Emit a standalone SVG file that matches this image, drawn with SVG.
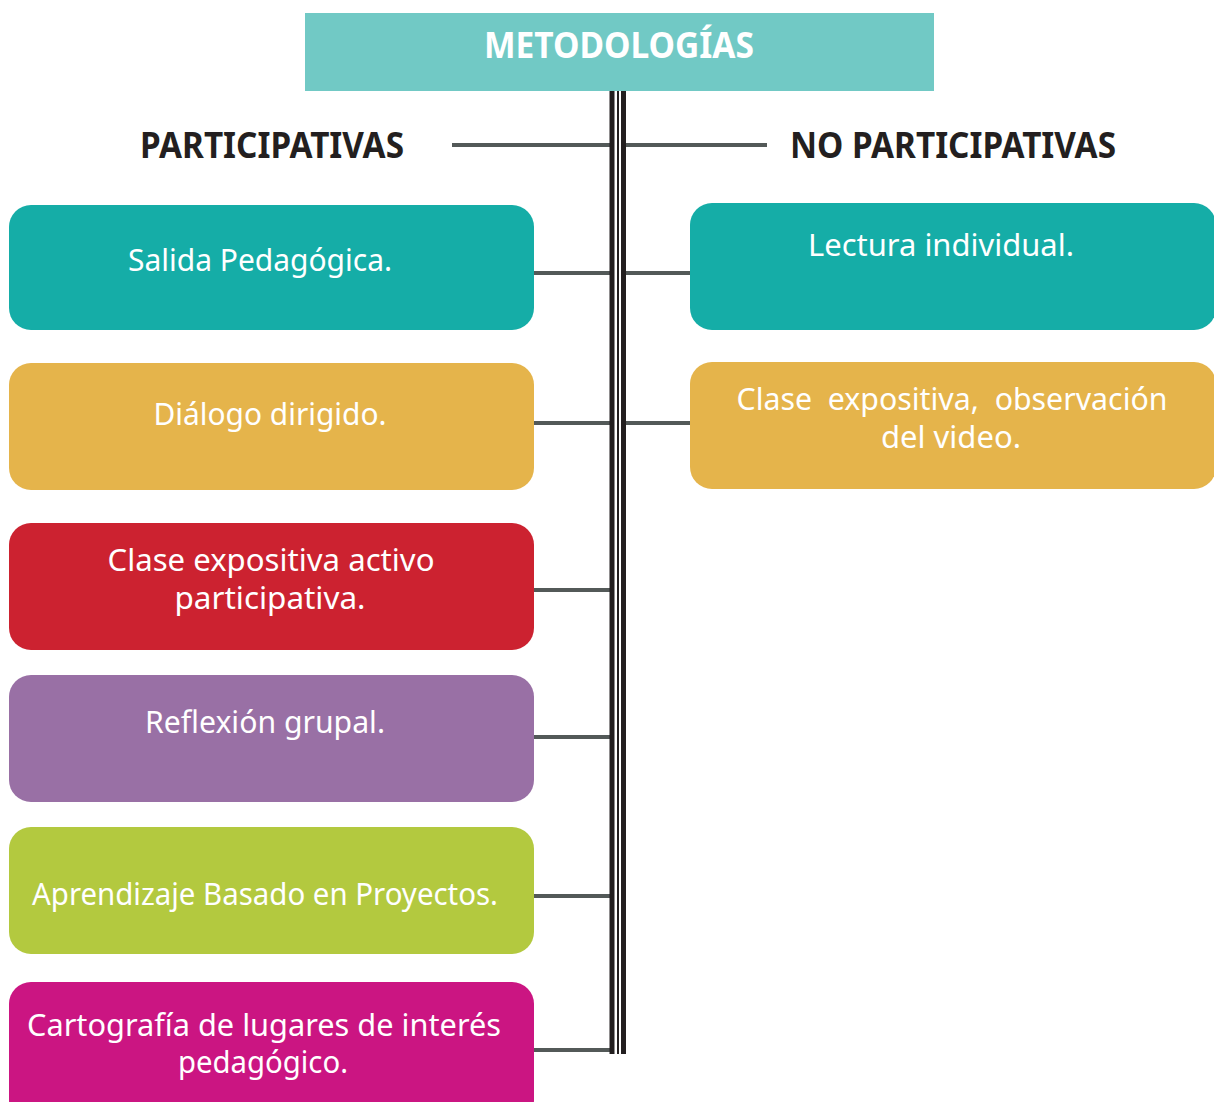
<svg xmlns="http://www.w3.org/2000/svg" width="1214" height="1102" viewBox="0 0 1214 1102">
<style>
.box text{fill:#ffffff;font-family:"Noto Sans","Liberation Sans",sans-serif;font-size:30px;text-anchor:middle}
.hdr{font-family:"Noto Sans","Liberation Sans",sans-serif;font-weight:bold;font-size:35px;text-anchor:middle}
.conn line{stroke:#535958;stroke-width:4}
.trunk line{stroke:#231f20}
</style>
<rect width="1214" height="1102" fill="#ffffff"/>
<g id="metodologias">
<rect x="305" y="13" width="629" height="78" fill="#71c9c5"/>
<text class="hdr" x="619" y="58" fill="#ffffff" textLength="270" lengthAdjust="spacingAndGlyphs">METODOLOGÍAS</text>
</g>
<g id="participativas">
<text class="hdr" x="272" y="158" fill="#231f20" font-size="36" textLength="264" lengthAdjust="spacingAndGlyphs">PARTICIPATIVAS</text>
</g>
<g id="no-participativas">
<text class="hdr" x="953" y="158" fill="#231f20" font-size="36" textLength="326" lengthAdjust="spacingAndGlyphs">NO PARTICIPATIVAS</text>
</g>
<g id="connectors">
<g class="conn">
<line x1="452" y1="145" x2="610" y2="145"/>
<line x1="626" y1="145" x2="767" y2="145"/>
<line x1="533" y1="273" x2="610" y2="273"/>
<line x1="626" y1="273" x2="691" y2="273"/>
<line x1="533" y1="423" x2="610" y2="423"/>
<line x1="626" y1="423" x2="691" y2="423"/>
<line x1="533" y1="590" x2="610" y2="590"/>
<line x1="533" y1="737" x2="610" y2="737"/>
<line x1="533" y1="896" x2="610" y2="896"/>
<line x1="533" y1="1050" x2="610" y2="1050"/>
</g>
<g class="trunk">
<line x1="612" y1="91" x2="612" y2="1054" stroke-width="5"/>
<line x1="618" y1="91" x2="618" y2="1054" stroke-width="2"/>
<line x1="623.5" y1="91" x2="623.5" y2="1054" stroke-width="5"/>
</g>
</g>
<g id="salida" class="box">
<rect x="9" y="205" width="525" height="125" rx="22" fill="#15ada7"/>
<text x="260" y="271" textLength="264" lengthAdjust="spacingAndGlyphs">Salida Pedagógica.</text>
</g>
<g id="dialogo" class="box">
<rect x="9" y="363" width="525" height="127" rx="22" fill="#e5b44b"/>
<text x="270" y="425" textLength="233" lengthAdjust="spacingAndGlyphs">Diálogo dirigido.</text>
</g>
<g id="clase-activo" class="box">
<rect x="9" y="523" width="525" height="127" rx="22" fill="#cc2230"/>
<text x="271" y="571" textLength="327" lengthAdjust="spacingAndGlyphs">Clase expositiva activo</text>
<text x="270" y="609" textLength="191" lengthAdjust="spacingAndGlyphs">participativa.</text>
</g>
<g id="reflexion" class="box">
<rect x="9" y="675" width="525" height="127" rx="22" fill="#9970a5"/>
<text x="265" y="733" textLength="240" lengthAdjust="spacingAndGlyphs">Reflexión grupal.</text>
</g>
<g id="abp" class="box">
<rect x="9" y="827" width="525" height="127" rx="22" fill="#b3c93f"/>
<text x="265" y="905" textLength="466" lengthAdjust="spacingAndGlyphs">Aprendizaje Basado en Proyectos.</text>
</g>
<g id="cartografia" class="box">
<rect x="9" y="982" width="525" height="140" rx="22" fill="#cb1582"/>
<text x="264" y="1036" textLength="474" lengthAdjust="spacingAndGlyphs">Cartografía de lugares de interés</text>
<text x="263" y="1073" textLength="170" lengthAdjust="spacingAndGlyphs">pedagógico.</text>
</g>
<g id="lectura" class="box">
<rect x="690" y="203" width="526" height="127" rx="22" fill="#15ada7"/>
<text x="941" y="256" textLength="266" lengthAdjust="spacingAndGlyphs">Lectura individual.</text>
</g>
<g id="clase-video" class="box">
<rect x="690" y="362" width="526" height="127" rx="22" fill="#e5b44b"/>
<text x="952" y="410" textLength="431" lengthAdjust="spacingAndGlyphs" xml:space="preserve" style="white-space:pre">Clase  expositiva,  observación</text>
<text x="951" y="448" textLength="140" lengthAdjust="spacingAndGlyphs">del video.</text>
</g>
</svg>
